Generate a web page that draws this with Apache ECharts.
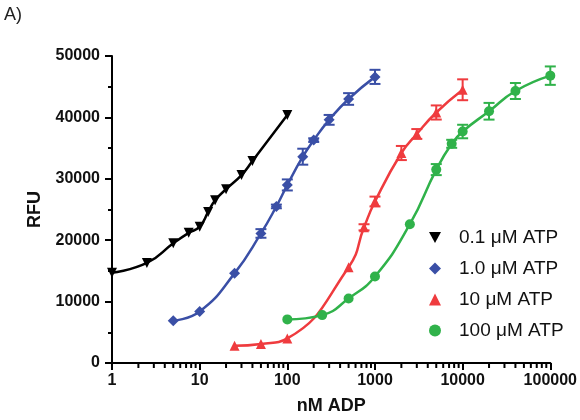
<!DOCTYPE html>
<html>
<head>
<meta charset="utf-8">
<script src="https://cdn.jsdelivr.net/npm/echarts@6/dist/echarts.min.js"></script>
<style>html,body{margin:0;padding:0;background:#fff;}#c{width:580px;height:420px;}</style>
</head>
<body>
<div id="c"></div>
<script>
// ---- data ----
const seriesNames = ['0.1 \u03bcM ATP', '1.0 \u03bcM ATP', '10 \u03bcM ATP', '100 \u03bcM ATP'];

const atp01_x = [1, 2.5, 5, 7.5, 10, 12.5, 15, 20, 30, 40, 100];
const atp01_y = [14700, 16300, 19500, 21200, 22200, 24600, 26500, 28300, 30600, 32900, 40400];
const atp01_err = [0, 0, 0, 0, 0, 0, 0, 0, 0, 0, 0];

const atp1_x = [5, 10, 25, 50, 75, 100, 150, 200, 300, 500, 1000];
const atp1_y = [6900, 8400, 14600, 21100, 25500, 29000, 33600, 36300, 39600, 43000, 46600];
const atp1_err = [0, 0, 0, 700, 300, 900, 1300, 300, 800, 950, 1150];

const atp10_x = [25, 50, 100, 500, 750, 1000, 2000, 3000, 5000, 10000];
const atp10_y = [2800, 3100, 4000, 15600, 22100, 26300, 34200, 37300, 40800, 44500];
const atp10_err = [0, 0, 0, 0, 500, 800, 1150, 800, 1150, 1700];

const atp100_x = [100, 250, 500, 1000, 2500, 5000, 7500, 10000, 20000, 40000, 100000];
const atp100_y = [7100, 7800, 10500, 14100, 22600, 31500, 35700, 37700, 41000, 44300, 46800];
const atp100_err = [0, 0, 0, 0, 0, 900, 650, 1100, 1360, 1300, 1500];

const xTickLabels = [1, 10, 100, 1000, 10000, 100000];
const xMinorTicks = [2, 3, 4, 5, 6, 7, 8, 9, 20, 30, 40, 50, 60, 70, 80, 90,
  200, 300, 400, 500, 600, 700, 800, 900, 2000, 3000, 4000, 5000, 6000, 7000, 8000, 9000,
  20000, 30000, 40000, 50000, 60000, 70000, 80000, 90000];
const yTickLabels = [0, 10000, 20000, 30000, 40000, 50000];

// ---- build ----
const colors = ['#000000', '#3a4fa6', '#ef3b3e', '#30b24a'];
const symbols = ['triangle', 'diamond', 'triangle', 'circle'];
const rotations = [180, 0, 0, 0];
const sizes = [10, 11, 10, 10];
const legendIcons = ['path://M0,0L10,0L5,9Z', 'diamond', 'triangle', 'circle'];
const xs = [atp01_x, atp1_x, atp10_x, atp100_x];
const ys = [atp01_y, atp1_y, atp10_y, atp100_y];
const errs = [atp01_err, atp1_err, atp10_err, atp100_err];

const FONT = 'Liberation Sans, Arial, sans-serif';
const series = [];

for (let i = 0; i < 4; i++) {
  const pts = xs[i].map((x, j) => [x, ys[i][j]]);
  const errPts = xs[i].map((x, j) => [x, ys[i][j], errs[i][j]]).filter(p => p[2] > 0);
  series.push({
    type: 'custom',
    name: 'err' + i,
    data: errPts,
    encode: { x: 0, y: 1 },
    z: 3,
    silent: true,
    renderItem: function (params, api) {
      const x = api.value(0), y = api.value(1), e = api.value(2);
      const top = api.coord([x, y + e]);
      const bot = api.coord([x, y - e]);
      const hw = 5.5;
      const st = { stroke: colors[i], lineWidth: 2 };
      return {
        type: 'group',
        children: [
          { type: 'line', shape: { x1: top[0], y1: top[1], x2: bot[0], y2: bot[1] }, style: st },
          { type: 'line', shape: { x1: top[0] - hw, y1: top[1], x2: top[0] + hw, y2: top[1] }, style: st },
          { type: 'line', shape: { x1: bot[0] - hw, y1: bot[1], x2: bot[0] + hw, y2: bot[1] }, style: st }
        ]
      };
    }
  });
  series.push({
    type: 'line',
    name: seriesNames[i],
    data: pts,
    smooth: 0.5,
    symbol: symbols[i],
    symbolRotate: rotations[i],
    symbolSize: sizes[i],
    showAllSymbol: true,
    z: 4,
    itemStyle: { color: colors[i] },
    lineStyle: { color: colors[i], width: 2.5 }
  });
}

// minor ticks of the log axis, drawn through the axis scale
series.push({
  type: 'custom',
  name: 'minorTicks',
  data: xMinorTicks.map(v => [v, 0]),
  encode: { x: 0, y: 1 },
  z: 5,
  renderItem: function (params, api) {
    const p = api.coord([api.value(0), api.value(1)]);
    return {
      type: 'rect',
      shape: { x: p[0] - 1, y: p[1] - 1, width: 2, height: 6 },
      style: { fill: '#000000' }
    };
  }
});

const chart = echarts.init(document.getElementById('c'), null, { renderer: 'canvas' });
chart.setOption({
  animation: false,
  backgroundColor: '#ffffff',
  title: {
    text: 'A)',
    left: 4,
    top: 6,
    padding: 0,
    textStyle: { fontFamily: FONT, fontSize: 18, fontWeight: 'normal', color: '#222' }
  },
  legend: {
    orient: 'vertical',
    left: 424,
    top: 223,
    itemWidth: 12,
    itemHeight: 12,
    itemGap: 12,
    selectedMode: false,
    data: seriesNames.map((n, i) => ({ name: n, icon: legendIcons[i], itemStyle: { color: colors[i] } })),
    textStyle: { fontFamily: FONT, fontSize: 19, color: '#111', lineHeight: 19, padding: [0, 0, 0, 13] }
  },
  grid: { left: 112, right: 29, top: 56, bottom: 57 },
  xAxis: {
    type: 'log',
    logBase: 10,
    min: 1,
    max: 100000,
    name: 'nM ADP',
    nameLocation: 'middle',
    nameGap: 34,
    nameTextStyle: { fontFamily: FONT, fontSize: 18, fontWeight: 'bold', color: '#111' },
    axisLine: { show: true, onZero: false, lineStyle: { color: '#000', width: 2 } },
    axisTick: { show: true, length: 7, lineStyle: { color: '#000', width: 2 }, customValues: xTickLabels },
    axisLabel: {
      margin: 10,
      fontFamily: FONT, fontSize: 16, fontWeight: 'bold', color: '#111',
      customValues: xTickLabels,
      formatter: v => String(Math.round(v))
    },
    splitLine: { show: false }
  },
  yAxis: {
    type: 'value',
    min: 0,
    max: 50000,
    interval: 10000,
    name: 'RFU',
    nameLocation: 'middle',
    nameRotate: 90,
    nameGap: 68,
    nameTextStyle: { fontFamily: FONT, fontSize: 18, fontWeight: 'bold', color: '#111' },
    axisLine: { show: true, onZero: false, lineStyle: { color: '#000', width: 2 } },
    axisTick: { show: true, length: 7, lineStyle: { color: '#000', width: 2 } },
    minorTick: { show: true, splitNumber: 2, length: 4, lineStyle: { color: '#000', width: 2 } },
    axisLabel: {
      margin: 12,
      fontFamily: FONT, fontSize: 16, fontWeight: 'bold', color: '#111',
      formatter: v => String(v)
    },
    splitLine: { show: false },
    minorSplitLine: { show: false }
  },
  series: series
});
</script>
</body>
</html>
